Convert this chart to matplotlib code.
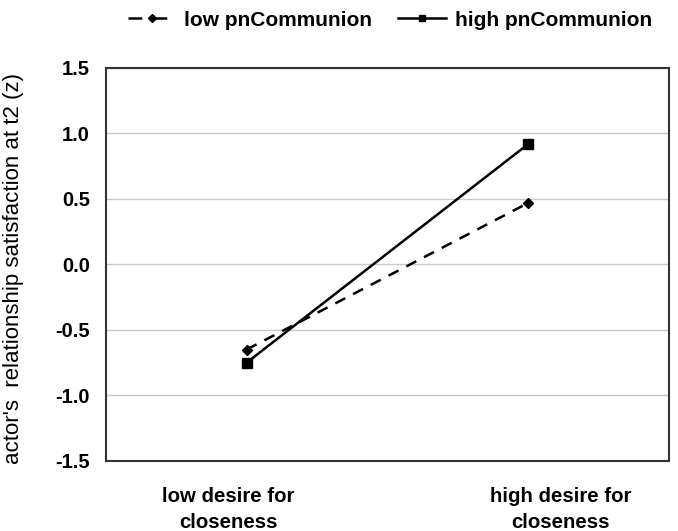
import matplotlib.pyplot as plt
from matplotlib.lines import Line2D

plt.rcParams['font.family'] = ['Liberation Sans', 'DejaVu Sans']

# Données
conditions = ["low desire for\ncloseness", "high desire for\ncloseness"]
x_pos = [0, 1]
label_pos = [-0.065, 1.115]
low_pncommunion = [-0.65, 0.47]
high_pncommunion = [-0.75, 0.92]
y_ticks = [-1.5, -1.0, -0.5, 0.0, 0.5, 1.0, 1.5]

fig = plt.figure(figsize=(6.78, 5.31), dpi=100)
ax = fig.add_axes([0.156, 0.132, 0.831, 0.740])

ax.plot(x_pos, low_pncommunion, color="black", linestyle=(0, (4.5, 3.5)), linewidth=1.8,
        marker="D", markersize=5, label="low pnCommunion")
ax.plot(x_pos, high_pncommunion, color="black", linestyle="-", linewidth=1.8,
        marker="s", markersize=6.5, label="high pnCommunion")

ax.set_xlim(-0.5, 1.5)
ax.set_ylim(-1.5, 1.5)
ax.set_yticks(y_ticks)
ax.set_yticklabels([f"{v:.1f}" for v in y_ticks], fontsize=14.5, fontweight="bold")
ax.yaxis.grid(True, color="#c8c8c8", linewidth=1)
ax.set_axisbelow(True)

# étiquettes des catégories
ax.set_xticks(label_pos)
ax.set_xticklabels(conditions, fontsize=14.7, fontweight="bold", linespacing=1.45)
ax.tick_params(axis="x", length=0, pad=19)
ax.tick_params(axis="y", length=0, pad=11.5)

ax.set_ylabel("actor's  relationship satisfaction at t2 (z)", fontsize=16)
ax.yaxis.set_label_coords(-0.146, 0.49)

for s in ax.spines.values():
    s.set_color("#333333")
    s.set_linewidth(1.5)

handles = [
    Line2D([], [], color="black", linestyle=(0, (5.5, 4.5)), linewidth=1.8, marker="D", markersize=4.5),
    Line2D([], [], color="black", linestyle="-", linewidth=1.8, marker="s", markersize=5),
]
fig.legend(handles, ["low pnCommunion", "high pnCommunion"], loc="upper center",
           bbox_to_anchor=(0.575, 1.015), ncol=2, frameon=False,
           prop={"size": 15, "weight": "bold"}, handlelength=2.3,
           handletextpad=0.4, columnspacing=1.25)

fig.savefig("out.png", dpi=100)
